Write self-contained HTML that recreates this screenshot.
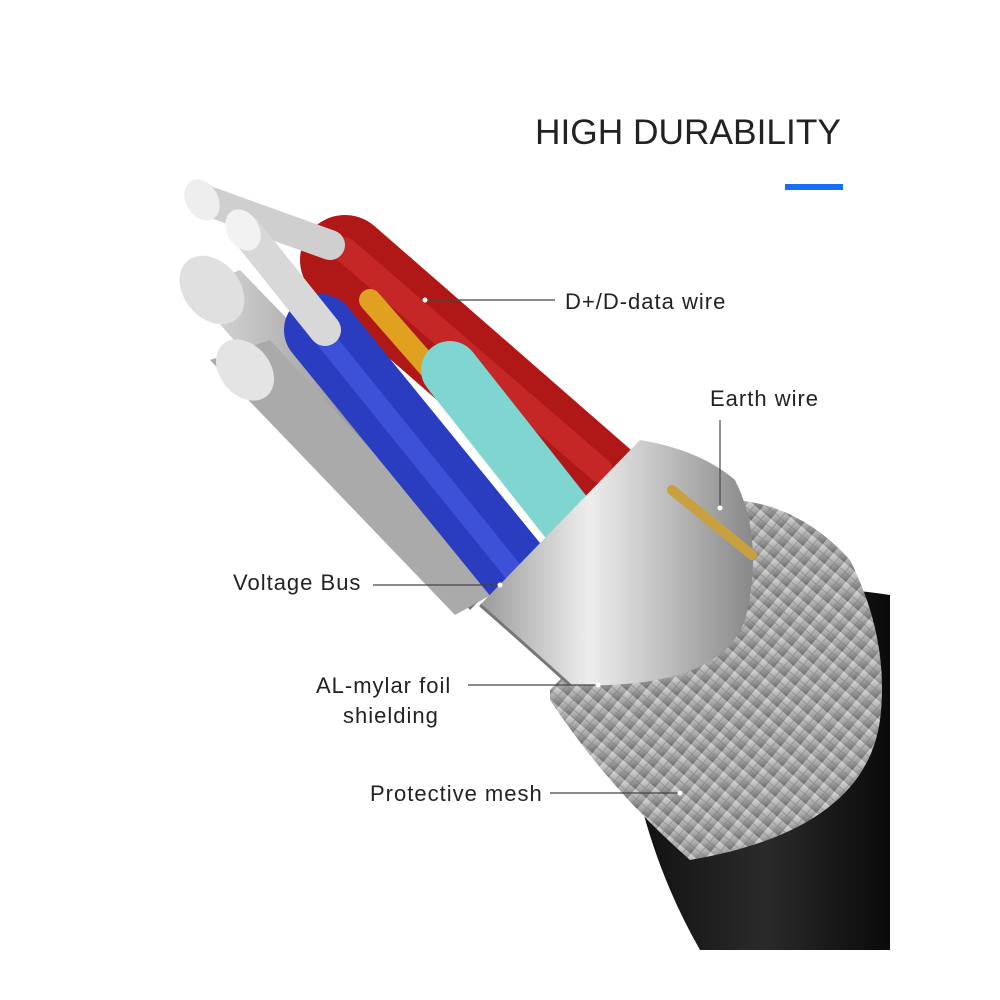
<!DOCTYPE html>
<html><head><meta charset="utf-8"><style>
html,body{margin:0;padding:0;background:#fff;width:1000px;height:1000px;overflow:hidden}
svg{display:block}
text{font-family:"Liberation Sans",sans-serif;fill:#222}
</style></head><body>
<svg width="1000" height="1000" viewBox="0 0 1000 1000" xmlns="http://www.w3.org/2000/svg">
<defs>
<linearGradient id="blk" x1="0" y1="0" x2="1" y2="0"><stop offset="0" stop-color="#111"/><stop offset=".5" stop-color="#2a2a2a"/><stop offset="1" stop-color="#0a0a0a"/></linearGradient>
<linearGradient id="mesh" x1="0" y1="0" x2="1" y2="1"><stop offset="0" stop-color="#d8d8d8"/><stop offset=".5" stop-color="#a8a8a8"/><stop offset="1" stop-color="#6a6a6a"/></linearGradient>
<linearGradient id="foil" x1="0" y1="0" x2="1" y2="0"><stop offset="0" stop-color="#9a9a9a"/><stop offset=".4" stop-color="#eee"/><stop offset="1" stop-color="#888"/></linearGradient>
<linearGradient id="str" x1="0" y1="0" x2="1" y2="0"><stop offset="0" stop-color="#ddd"/><stop offset=".5" stop-color="#999"/><stop offset="1" stop-color="#666"/></linearGradient>
<pattern id="weave" width="14" height="14" patternUnits="userSpaceOnUse" patternTransform="rotate(40)"><rect width="14" height="14" fill="url(#mesh)"/><path d="M0 7h14M7 0v14" stroke="#777" stroke-width="1" opacity=".5"/></pattern>
</defs>
<path d="M640 610 Q760 575 890 595 L890 950 L700 950 Q660 880 640 800 Z" fill="url(#blk)"/>
<path d="M550 690 L735 500 Q800 505 850 560 Q890 640 880 720 Q865 830 690 860 Q610 790 550 700 Z" fill="url(#weave)"/>
<path d="M190 290 L240 270 L520 560 L470 610 Z" fill="url(#str)"/>
<path d="M210 360 L270 340 L500 590 L455 615 Z" fill="#aaa"/>
<ellipse cx="212" cy="290" rx="28" ry="38" fill="#e0e0e0" transform="rotate(-40 212 290)"/>
<ellipse cx="245" cy="370" rx="25" ry="34" fill="#e4e4e4" transform="rotate(-40 245 370)"/>
<line x1="345" y1="260" x2="620" y2="500" stroke="#b01818" stroke-width="90" stroke-linecap="round"/>
<line x1="345" y1="250" x2="600" y2="470" stroke="#d33030" stroke-width="25" stroke-linecap="round" opacity=".6"/>
<line x1="370" y1="300" x2="440" y2="380" stroke="#e0a020" stroke-width="22" stroke-linecap="round"/>
<line x1="450" y1="370" x2="600" y2="560" stroke="#7fd6d0" stroke-width="58" stroke-linecap="round"/>
<line x1="320" y1="330" x2="540" y2="600" stroke="#2a3cc0" stroke-width="72" stroke-linecap="round"/>
<line x1="310" y1="320" x2="520" y2="580" stroke="#4a60e8" stroke-width="20" stroke-linecap="round" opacity=".6"/>
<line x1="205" y1="200" x2="330" y2="245" stroke="#cfcfcf" stroke-width="30" stroke-linecap="round"/>
<ellipse cx="202" cy="200" rx="16" ry="22" fill="#eee" transform="rotate(-30 202 200)"/>
<line x1="245" y1="230" x2="325" y2="330" stroke="#d8d8d8" stroke-width="32" stroke-linecap="round"/>
<ellipse cx="243" cy="230" rx="16" ry="22" fill="#f2f2f2" transform="rotate(-30 243 230)"/>
<path d="M480 605 L640 440 Q700 450 735 480 Q765 540 745 620 Q720 690 570 685 Z" fill="url(#foil)"/>
<path d="M480 605 Q520 640 570 685" stroke="#777" stroke-width="3" fill="none"/>
<line x1="672" y1="490" x2="752" y2="555" stroke="#c8a040" stroke-width="10" stroke-linecap="round"/>
<text x="535" y="144" font-size="35.3" fill="#111">HIGH DURABILITY</text>
<rect x="785" y="184" width="58" height="6" fill="#1a6ef0"/>
<g font-size="22" letter-spacing="1">
<text x="565" y="309">D+/D-data wire</text>
<text x="710" y="406">Earth wire</text>
<text x="233" y="590">Voltage Bus</text>
<text x="316" y="693">AL-mylar foil</text>
<text x="343" y="723">shielding</text>
<text x="370" y="801">Protective mesh</text>
</g>
<g stroke="#444" stroke-width="1.2">
<line x1="425" y1="300" x2="555" y2="300"/>
<line x1="720" y1="420" x2="720" y2="508"/>
<line x1="373" y1="585" x2="500" y2="585"/>
<line x1="468" y1="685" x2="598" y2="685"/>
<line x1="550" y1="793" x2="680" y2="793"/>
</g>
<g fill="#fff"><circle cx="425" cy="300" r="2.5"/><circle cx="720" cy="508" r="2.5"/><circle cx="500" cy="585" r="2.5"/><circle cx="598" cy="685" r="2.5"/><circle cx="680" cy="793" r="2.5"/></g>
</svg>
</body></html>
